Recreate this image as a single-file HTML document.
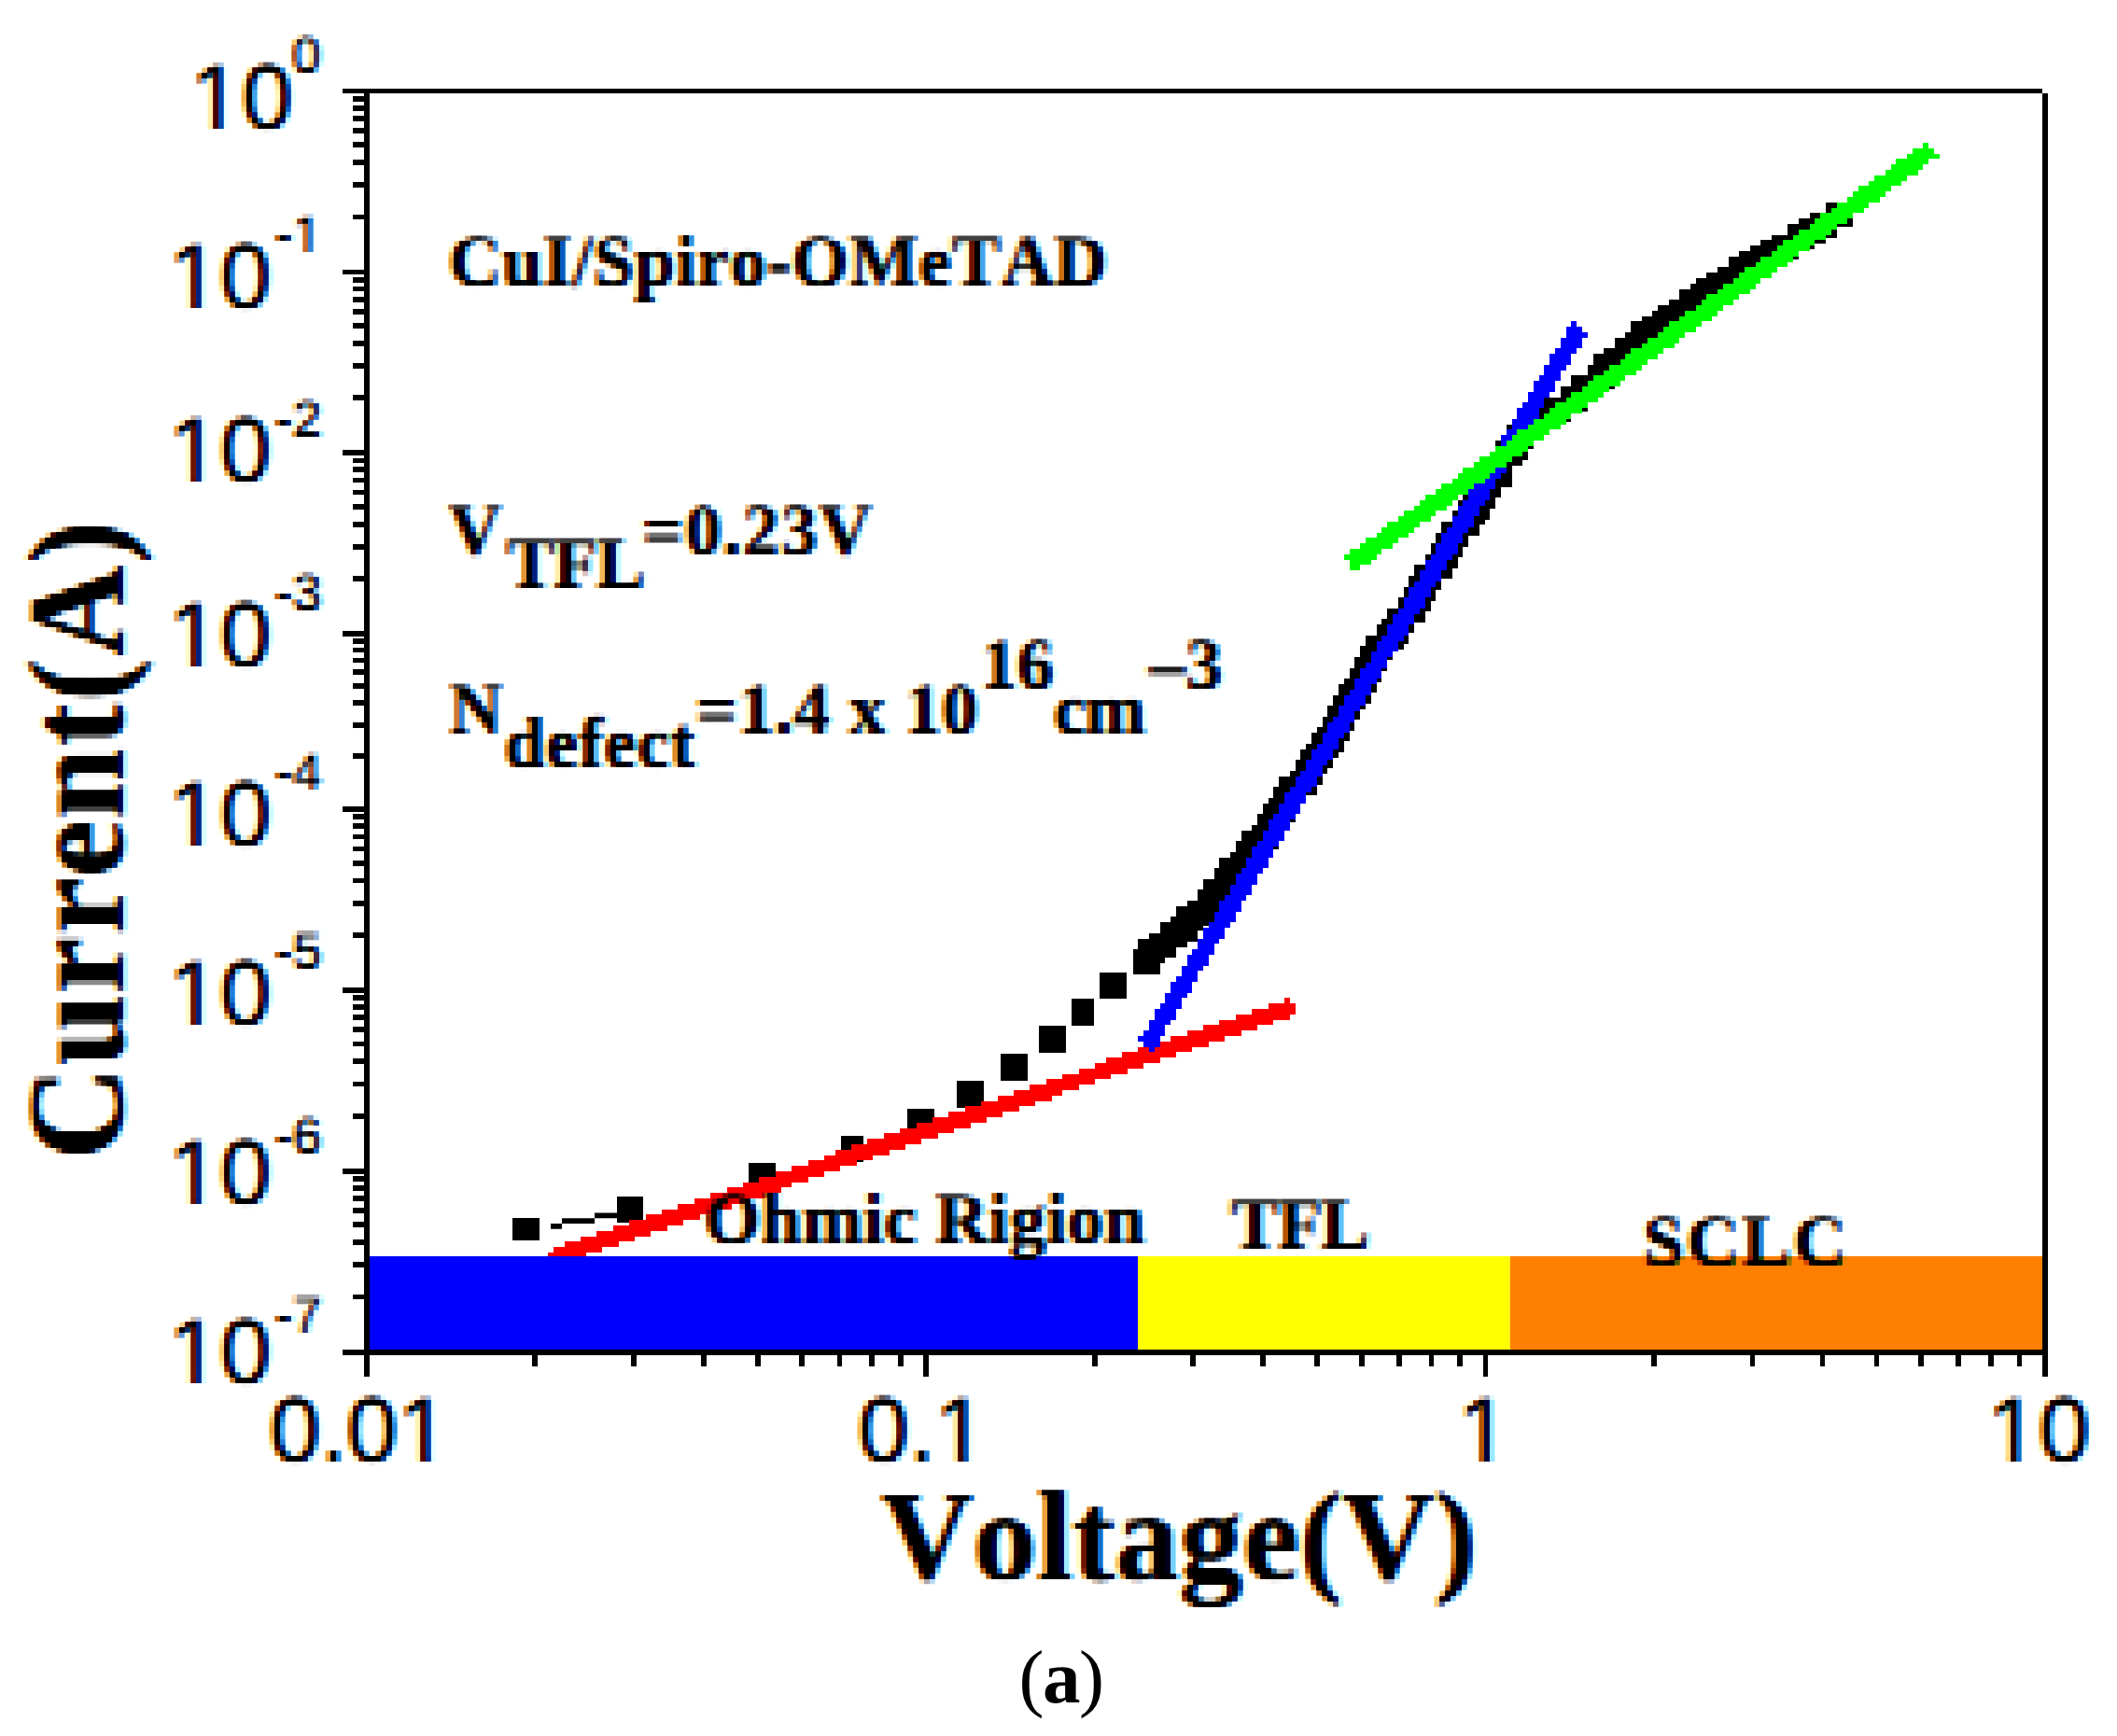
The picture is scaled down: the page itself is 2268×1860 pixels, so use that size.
<!DOCTYPE html>
<html lang="en"><head><meta charset="utf-8"><title>I-V characteristics (a)</title>
<style>html,body{margin:0;padding:0;background:#fff;overflow:hidden}svg{display:block}text{font-kerning:none;fill:#000}.s{font-family:"Liberation Serif",serif;font-weight:bold}.a{font-family:"Liberation Sans",sans-serif}</style></head><body>
<svg width="2268" height="1860" viewBox="0 0 2268 1860">
<rect width="2268" height="1860" fill="#fff"/>
<g fill="#000" shape-rendering="crispEdges">
<rect x="548.9" y="1304.6" width="29.0" height="24.0"/>
<rect x="660.7" y="1281.7" width="28.6" height="28.6"/>
<rect x="801.8" y="1245.7" width="29.0" height="28.6"/>
<rect x="900.8" y="1216.7" width="24.5" height="28.6"/>
<rect x="971.9" y="1187.7" width="29.0" height="28.6"/>
<rect x="1025.0" y="1158.0" width="29.0" height="29.0"/>
<rect x="1071.8" y="1128.7" width="29.0" height="29.0"/>
<rect x="1113.0" y="1099.2" width="29.0" height="29.0"/>
<rect x="1148.2" y="1070.0" width="23.5" height="29.0"/>
<rect x="1178.0" y="1041.5" width="29.0" height="28.6"/>
<rect x="1213.6" y="1017.2" width="29.0" height="26.5"/>
<rect x="1219.4" y="1005.6" width="29.0" height="26.5"/>
<rect x="1231.0" y="999.8" width="29.0" height="26.5"/>
<rect x="1242.6" y="988.2" width="29.0" height="26.5"/>
<rect x="1254.2" y="982.4" width="29.0" height="26.5"/>
<rect x="1260.0" y="970.8" width="29.0" height="26.5"/>
<rect x="1271.6" y="965.0" width="29.0" height="26.5"/>
<rect x="1283.2" y="953.4" width="29.0" height="26.5"/>
<rect x="1289.0" y="941.8" width="29.0" height="26.5"/>
<rect x="1300.6" y="930.2" width="29.0" height="26.5"/>
<rect x="1306.4" y="918.6" width="29.0" height="26.5"/>
<rect x="1318.0" y="912.8" width="29.0" height="26.5"/>
<rect x="1323.8" y="901.2" width="29.0" height="26.5"/>
<rect x="1329.6" y="889.6" width="29.0" height="26.5"/>
<rect x="1341.2" y="883.8" width="29.0" height="26.5"/>
<rect x="1347.0" y="872.2" width="29.0" height="26.5"/>
<rect x="1352.8" y="860.6" width="29.0" height="26.5"/>
<rect x="1358.6" y="854.8" width="29.0" height="26.5"/>
<rect x="1364.4" y="843.2" width="29.0" height="26.5"/>
<rect x="1370.2" y="831.6" width="29.0" height="26.5"/>
<rect x="1381.8" y="825.8" width="29.0" height="26.5"/>
<rect x="1387.6" y="814.2" width="29.0" height="26.5"/>
<rect x="1393.4" y="802.6" width="29.0" height="26.5"/>
<rect x="1399.2" y="796.8" width="29.0" height="26.5"/>
<rect x="1405.0" y="785.2" width="29.0" height="26.5"/>
<rect x="1410.8" y="779.4" width="29.0" height="26.5"/>
<rect x="1416.6" y="767.8" width="29.0" height="26.5"/>
<rect x="1422.4" y="756.2" width="29.0" height="26.5"/>
<rect x="1428.2" y="744.6" width="29.0" height="26.5"/>
<rect x="1434.0" y="733.0" width="29.0" height="26.5"/>
<rect x="1439.8" y="727.2" width="29.0" height="26.5"/>
<rect x="1445.6" y="715.6" width="29.0" height="26.5"/>
<rect x="1451.4" y="704.0" width="29.0" height="26.5"/>
<rect x="1457.2" y="692.4" width="29.0" height="26.5"/>
<rect x="1463.0" y="680.8" width="29.0" height="26.5"/>
<rect x="1474.6" y="669.2" width="29.0" height="26.5"/>
<rect x="1480.4" y="663.4" width="29.0" height="26.5"/>
<rect x="1486.2" y="651.8" width="29.0" height="26.5"/>
<rect x="1497.8" y="640.2" width="29.0" height="26.5"/>
<rect x="1503.6" y="628.6" width="29.0" height="26.5"/>
<rect x="1509.4" y="617.0" width="29.0" height="26.5"/>
<rect x="1515.2" y="605.4" width="29.0" height="26.5"/>
<rect x="1526.8" y="593.8" width="29.0" height="26.5"/>
<rect x="1532.6" y="582.2" width="29.0" height="26.5"/>
<rect x="1538.4" y="570.6" width="29.0" height="26.5"/>
<rect x="1544.2" y="559.0" width="29.0" height="26.5"/>
<rect x="1555.8" y="547.4" width="29.0" height="26.5"/>
<rect x="1561.6" y="535.8" width="29.0" height="26.5"/>
<rect x="1567.4" y="530.0" width="29.0" height="26.5"/>
<rect x="1573.2" y="518.4" width="29.0" height="26.5"/>
<rect x="1579.0" y="506.8" width="29.0" height="26.5"/>
<rect x="1590.6" y="495.2" width="29.0" height="26.5"/>
<rect x="1602.2" y="472.0" width="29.0" height="26.5"/>
<rect x="1608.0" y="466.2" width="29.0" height="26.5"/>
<rect x="1613.8" y="454.6" width="29.0" height="26.5"/>
<rect x="1625.4" y="443.0" width="29.0" height="26.5"/>
<rect x="1642.8" y="431.4" width="29.0" height="26.5"/>
<rect x="1654.4" y="425.6" width="29.0" height="26.5"/>
<rect x="1671.8" y="414.0" width="29.0" height="26.5"/>
<rect x="1683.4" y="402.4" width="29.0" height="26.5"/>
<rect x="1700.8" y="390.8" width="29.0" height="26.5"/>
<rect x="1706.6" y="379.2" width="29.0" height="26.5"/>
<rect x="1718.2" y="373.4" width="29.0" height="26.5"/>
<rect x="1729.8" y="361.8" width="29.0" height="26.5"/>
<rect x="1741.4" y="356.0" width="29.0" height="26.5"/>
<rect x="1747.2" y="344.4" width="29.0" height="26.5"/>
<rect x="1758.8" y="338.6" width="29.0" height="26.5"/>
<rect x="1770.4" y="332.8" width="29.0" height="26.5"/>
<rect x="1776.2" y="327.0" width="29.0" height="26.5"/>
<rect x="1787.8" y="321.2" width="29.0" height="26.5"/>
<rect x="1799.4" y="309.6" width="29.0" height="26.5"/>
<rect x="1811.0" y="303.8" width="29.0" height="26.5"/>
<rect x="1816.8" y="298.0" width="29.0" height="26.5"/>
<rect x="1828.4" y="292.2" width="29.0" height="26.5"/>
<rect x="1840.0" y="286.4" width="29.0" height="26.5"/>
<rect x="1851.6" y="274.8" width="29.0" height="26.5"/>
<rect x="1863.2" y="269.0" width="29.0" height="26.5"/>
<rect x="1874.8" y="263.2" width="29.0" height="26.5"/>
<rect x="1886.4" y="257.4" width="29.0" height="26.5"/>
<rect x="1898.0" y="251.6" width="29.0" height="26.5"/>
<rect x="1915.4" y="240.0" width="29.0" height="26.5"/>
<rect x="1927.0" y="234.2" width="29.0" height="26.5"/>
<rect x="1938.6" y="228.4" width="29.0" height="26.5"/>
<rect x="1956.0" y="216.8" width="29.0" height="26.5"/>
</g>
<path d="M590 1311h12v5.8h-12zM602 1305.2h35v5.8h-35zM637 1299.4h24v5.8h-24z" fill="#000"/>
<path fill="#f00" shape-rendering="crispEdges" d="M1376.04 1069.40h5.80v5.85h-5.80zM1358.64 1075.20h29.00v5.85h-29.00zM1341.24 1081.00h46.40v5.85h-46.40zM1323.84 1086.80h58.00v5.85h-58.00zM1306.44 1092.60h58.00v5.85h-58.00zM1289.04 1098.40h58.00v5.85h-58.00zM1271.64 1104.20h58.00v5.85h-58.00zM1254.24 1110.00h58.00v5.85h-58.00zM1236.84 1115.80h58.00v5.85h-58.00zM1219.44 1121.60h58.00v5.85h-58.00zM1202.04 1127.40h58.00v5.85h-58.00zM1184.64 1133.20h58.00v5.85h-58.00zM1173.04 1139.00h52.20v5.85h-52.20zM1155.64 1144.80h52.20v5.85h-52.20zM1138.24 1150.60h52.20v5.85h-52.20zM1120.84 1156.40h52.20v5.85h-52.20zM1103.44 1162.20h52.20v5.85h-52.20zM1086.04 1168.00h52.20v5.85h-52.20zM1068.64 1173.80h58.00v5.85h-58.00zM1051.24 1179.60h58.00v5.85h-58.00zM1033.84 1185.40h58.00v5.85h-58.00zM1016.44 1191.20h58.00v5.85h-58.00zM999.04 1197.00h58.00v5.85h-58.00zM981.64 1202.80h58.00v5.85h-58.00zM964.24 1208.60h58.00v5.85h-58.00zM946.84 1214.40h58.00v5.85h-58.00zM929.44 1220.20h58.00v5.85h-58.00zM912.04 1226.00h58.00v5.85h-58.00zM894.64 1231.80h58.00v5.85h-58.00zM883.04 1237.60h52.20v5.85h-52.20zM865.64 1243.40h52.20v5.85h-52.20zM848.24 1249.20h52.20v5.85h-52.20zM830.84 1255.00h52.20v5.85h-52.20zM813.44 1260.80h52.20v5.85h-52.20zM796.04 1266.60h52.20v5.85h-52.20zM778.64 1272.40h58.00v5.85h-58.00zM761.24 1278.20h58.00v5.85h-58.00zM743.84 1284.00h58.00v5.85h-58.00zM726.44 1289.80h58.00v5.85h-58.00zM709.04 1295.60h58.00v5.85h-58.00zM691.64 1301.40h58.00v5.85h-58.00zM674.24 1307.20h58.00v5.85h-58.00zM656.84 1313.00h58.00v5.85h-58.00zM639.44 1318.80h58.00v5.85h-58.00zM622.04 1324.60h58.00v5.85h-58.00zM604.64 1330.40h58.00v5.85h-58.00zM593.04 1336.20h52.20v5.85h-52.20zM587.24 1342.00h40.60v5.85h-40.60zM587.24 1347.80h23.20v5.85h-23.20zM587.24 1353.60h5.80v5.85h-5.80z"/>
<path fill="#00f" shape-rendering="crispEdges" d="M1683.44 344.40h5.80v5.85h-5.80zM1677.64 350.20h17.40v5.85h-17.40zM1677.64 356.00h23.20v5.85h-23.20zM1671.84 361.80h23.20v5.85h-23.20zM1671.84 367.60h23.20v5.85h-23.20zM1666.04 373.40h23.20v5.85h-23.20zM1660.24 379.20h23.20v5.85h-23.20zM1660.24 385.00h23.20v5.85h-23.20zM1654.44 390.80h23.20v5.85h-23.20zM1654.44 396.60h17.40v5.85h-17.40zM1648.64 402.40h23.20v5.85h-23.20zM1642.84 408.20h23.20v5.85h-23.20zM1642.84 414.00h23.20v5.85h-23.20zM1637.04 419.80h23.20v5.85h-23.20zM1637.04 425.60h17.40v5.85h-17.40zM1631.24 431.40h23.20v5.85h-23.20zM1625.44 437.20h23.20v5.85h-23.20zM1625.44 443.00h23.20v5.85h-23.20zM1619.64 448.80h23.20v5.85h-23.20zM1619.64 454.60h17.40v5.85h-17.40zM1613.84 460.40h23.20v5.85h-23.20zM1608.04 466.20h23.20v5.85h-23.20zM1608.04 472.00h23.20v5.85h-23.20zM1602.24 477.80h23.20v5.85h-23.20zM1602.24 483.60h17.40v5.85h-17.40zM1596.44 489.40h23.20v5.85h-23.20zM1590.64 495.20h23.20v5.85h-23.20zM1590.64 501.00h23.20v5.85h-23.20zM1584.84 506.80h23.20v5.85h-23.20zM1584.84 512.60h17.40v5.85h-17.40zM1579.04 518.40h23.20v5.85h-23.20zM1573.24 524.20h23.20v5.85h-23.20zM1573.24 530.00h23.20v5.85h-23.20zM1567.44 535.80h23.20v5.85h-23.20zM1561.64 541.60h23.20v5.85h-23.20zM1561.64 547.40h23.20v5.85h-23.20zM1555.84 553.20h23.20v5.85h-23.20zM1555.84 559.00h23.20v5.85h-23.20zM1550.04 564.80h23.20v5.85h-23.20zM1544.24 570.60h23.20v5.85h-23.20zM1544.24 576.40h23.20v5.85h-23.20zM1538.44 582.20h23.20v5.85h-23.20zM1538.44 588.00h23.20v5.85h-23.20zM1532.64 593.80h23.20v5.85h-23.20zM1526.84 599.60h23.20v5.85h-23.20zM1526.84 605.40h23.20v5.85h-23.20zM1521.04 611.20h23.20v5.85h-23.20zM1521.04 617.00h23.20v5.85h-23.20zM1515.24 622.80h23.20v5.85h-23.20zM1509.44 628.60h23.20v5.85h-23.20zM1509.44 634.40h23.20v5.85h-23.20zM1503.64 640.20h23.20v5.85h-23.20zM1503.64 646.00h23.20v5.85h-23.20zM1497.84 651.80h23.20v5.85h-23.20zM1492.04 657.60h23.20v5.85h-23.20zM1492.04 663.40h23.20v5.85h-23.20zM1486.24 669.20h23.20v5.85h-23.20zM1486.24 675.00h23.20v5.85h-23.20zM1480.44 680.80h23.20v5.85h-23.20zM1474.64 686.60h23.20v5.85h-23.20zM1474.64 692.40h23.20v5.85h-23.20zM1468.84 698.20h23.20v5.85h-23.20zM1468.84 704.00h17.40v5.85h-17.40zM1463.04 709.80h23.20v5.85h-23.20zM1457.24 715.60h23.20v5.85h-23.20zM1457.24 721.40h23.20v5.85h-23.20zM1451.44 727.20h23.20v5.85h-23.20zM1451.44 733.00h17.40v5.85h-17.40zM1445.64 738.80h23.20v5.85h-23.20zM1439.84 744.60h23.20v5.85h-23.20zM1439.84 750.40h23.20v5.85h-23.20zM1434.04 756.20h23.20v5.85h-23.20zM1434.04 762.00h17.40v5.85h-17.40zM1428.24 767.80h23.20v5.85h-23.20zM1422.44 773.60h23.20v5.85h-23.20zM1422.44 779.40h23.20v5.85h-23.20zM1416.64 785.20h23.20v5.85h-23.20zM1416.64 791.00h17.40v5.85h-17.40zM1410.84 796.80h23.20v5.85h-23.20zM1405.04 802.60h23.20v5.85h-23.20zM1405.04 808.40h23.20v5.85h-23.20zM1399.24 814.20h23.20v5.85h-23.20zM1399.24 820.00h17.40v5.85h-17.40zM1393.44 825.80h23.20v5.85h-23.20zM1387.64 831.60h23.20v5.85h-23.20zM1387.64 837.40h23.20v5.85h-23.20zM1381.84 843.20h23.20v5.85h-23.20zM1376.04 849.00h23.20v5.85h-23.20zM1376.04 854.80h23.20v5.85h-23.20zM1370.24 860.60h23.20v5.85h-23.20zM1370.24 866.40h23.20v5.85h-23.20zM1364.44 872.20h23.20v5.85h-23.20zM1358.64 878.00h23.20v5.85h-23.20zM1358.64 883.80h23.20v5.85h-23.20zM1352.84 889.60h23.20v5.85h-23.20zM1352.84 895.40h23.20v5.85h-23.20zM1347.04 901.20h23.20v5.85h-23.20zM1341.24 907.00h23.20v5.85h-23.20zM1341.24 912.80h23.20v5.85h-23.20zM1335.44 918.60h23.20v5.85h-23.20zM1335.44 924.40h23.20v5.85h-23.20zM1329.64 930.20h23.20v5.85h-23.20zM1323.84 936.00h23.20v5.85h-23.20zM1323.84 941.80h23.20v5.85h-23.20zM1318.04 947.60h23.20v5.85h-23.20zM1318.04 953.40h23.20v5.85h-23.20zM1312.24 959.20h23.20v5.85h-23.20zM1306.44 965.00h23.20v5.85h-23.20zM1306.44 970.80h23.20v5.85h-23.20zM1300.64 976.60h23.20v5.85h-23.20zM1300.64 982.40h23.20v5.85h-23.20zM1294.84 988.20h23.20v5.85h-23.20zM1289.04 994.00h23.20v5.85h-23.20zM1289.04 999.80h23.20v5.85h-23.20zM1283.24 1005.60h23.20v5.85h-23.20zM1283.24 1011.40h17.40v5.85h-17.40zM1277.44 1017.20h23.20v5.85h-23.20zM1271.64 1023.00h23.20v5.85h-23.20zM1271.64 1028.80h23.20v5.85h-23.20zM1265.84 1034.60h23.20v5.85h-23.20zM1265.84 1040.40h17.40v5.85h-17.40zM1260.04 1046.20h23.20v5.85h-23.20zM1254.24 1052.00h23.20v5.85h-23.20zM1254.24 1057.80h23.20v5.85h-23.20zM1248.44 1063.60h23.20v5.85h-23.20zM1248.44 1069.40h17.40v5.85h-17.40zM1242.64 1075.20h23.20v5.85h-23.20zM1236.84 1081.00h23.20v5.85h-23.20zM1236.84 1086.80h23.20v5.85h-23.20zM1231.04 1092.60h23.20v5.85h-23.20zM1231.04 1098.40h17.40v5.85h-17.40zM1225.24 1104.20h23.20v5.85h-23.20zM1219.44 1110.00h23.20v5.85h-23.20zM1225.24 1115.80h17.40v5.85h-17.40zM1231.04 1121.60h5.80v5.85h-5.80z"/>
<path fill="#0f0" shape-rendering="crispEdges" d="M2060.44 153.00h5.80v5.85h-5.80zM2048.84 158.80h23.20v5.85h-23.20zM2043.04 164.60h34.80v5.85h-34.80zM2031.44 170.40h34.80v5.85h-34.80zM2025.64 176.20h34.80v5.85h-34.80zM2019.84 182.00h34.80v5.85h-34.80zM2008.24 187.80h34.80v5.85h-34.80zM2002.44 193.60h34.80v5.85h-34.80zM1990.84 199.40h34.80v5.85h-34.80zM1985.04 205.20h34.80v5.85h-34.80zM1979.24 211.00h34.80v5.85h-34.80zM1967.64 216.80h34.80v5.85h-34.80zM1961.84 222.60h34.80v5.85h-34.80zM1950.24 228.40h34.80v5.85h-34.80zM1944.44 234.20h34.80v5.85h-34.80zM1938.64 240.00h29.00v5.85h-29.00zM1927.04 245.80h34.80v5.85h-34.80zM1921.24 251.60h34.80v5.85h-34.80zM1909.64 257.40h34.80v5.85h-34.80zM1903.84 263.20h34.80v5.85h-34.80zM1898.04 269.00h29.00v5.85h-29.00zM1886.44 274.80h34.80v5.85h-34.80zM1880.64 280.60h34.80v5.85h-34.80zM1869.04 286.40h34.80v5.85h-34.80zM1863.24 292.20h34.80v5.85h-34.80zM1857.44 298.00h29.00v5.85h-29.00zM1845.84 303.80h34.80v5.85h-34.80zM1840.04 309.60h34.80v5.85h-34.80zM1828.44 315.40h34.80v5.85h-34.80zM1822.64 321.20h34.80v5.85h-34.80zM1816.84 327.00h29.00v5.85h-29.00zM1805.24 332.80h34.80v5.85h-34.80zM1799.44 338.60h34.80v5.85h-34.80zM1787.84 344.40h34.80v5.85h-34.80zM1782.04 350.20h34.80v5.85h-34.80zM1776.24 356.00h29.00v5.85h-29.00zM1764.64 361.80h34.80v5.85h-34.80zM1758.84 367.60h34.80v5.85h-34.80zM1747.24 373.40h34.80v5.85h-34.80zM1741.44 379.20h34.80v5.85h-34.80zM1735.64 385.00h29.00v5.85h-29.00zM1724.04 390.80h34.80v5.85h-34.80zM1718.24 396.60h34.80v5.85h-34.80zM1706.64 402.40h34.80v5.85h-34.80zM1700.84 408.20h34.80v5.85h-34.80zM1695.04 414.00h29.00v5.85h-29.00zM1683.44 419.80h34.80v5.85h-34.80zM1677.64 425.60h34.80v5.85h-34.80zM1666.04 431.40h34.80v5.85h-34.80zM1660.24 437.20h34.80v5.85h-34.80zM1654.44 443.00h29.00v5.85h-29.00zM1642.84 448.80h34.80v5.85h-34.80zM1637.04 454.60h34.80v5.85h-34.80zM1625.44 460.40h34.80v5.85h-34.80zM1619.64 466.20h34.80v5.85h-34.80zM1613.84 472.00h29.00v5.85h-29.00zM1602.24 477.80h34.80v5.85h-34.80zM1596.44 483.60h34.80v5.85h-34.80zM1584.84 489.40h34.80v5.85h-34.80zM1579.04 495.20h34.80v5.85h-34.80zM1567.44 501.00h34.80v5.85h-34.80zM1561.64 506.80h34.80v5.85h-34.80zM1555.84 512.60h34.80v5.85h-34.80zM1544.24 518.40h34.80v5.85h-34.80zM1538.44 524.20h34.80v5.85h-34.80zM1526.84 530.00h34.80v5.85h-34.80zM1521.04 535.80h34.80v5.85h-34.80zM1515.24 541.60h34.80v5.85h-34.80zM1503.64 547.40h34.80v5.85h-34.80zM1497.84 553.20h34.80v5.85h-34.80zM1486.24 559.00h34.80v5.85h-34.80zM1480.44 564.80h34.80v5.85h-34.80zM1474.64 570.60h34.80v5.85h-34.80zM1463.04 576.40h34.80v5.85h-34.80zM1457.24 582.20h34.80v5.85h-34.80zM1445.64 588.00h34.80v5.85h-34.80zM1439.84 593.80h34.80v5.85h-34.80zM1445.64 599.60h23.20v5.85h-23.20zM1445.64 605.40h11.60v5.85h-11.60z"/>
<rect x="395" y="1345.9" width="824" height="100.84999999999991" fill="#00f"/>
<rect x="1219" y="1345.9" width="398.79999999999995" height="100.84999999999991" fill="#ff0"/>
<rect x="1617.8" y="1345.9" width="571.2" height="100.84999999999991" fill="#ff8000"/>
<g fill="#000" shape-rendering="crispEdges">
<rect x="367" y="94.85" width="1821" height="5.2"/>
<rect x="367" y="1445.75" width="1827" height="5.9"/>
<rect x="390" y="94.85" width="5.9" height="1379.65"/>
<rect x="2188" y="99.85" width="5.9" height="1374.65"/>
<rect x="378.3" y="229.51" width="12" height="5.8"/>
<rect x="378.3" y="195.38" width="12" height="5.8"/>
<rect x="378.3" y="171.17" width="12" height="5.8"/>
<rect x="378.3" y="152.39" width="12" height="5.8"/>
<rect x="378.3" y="137.04" width="12" height="5.8"/>
<rect x="378.3" y="124.07" width="12" height="5.8"/>
<rect x="378.3" y="112.83" width="12" height="5.8"/>
<rect x="378.3" y="102.92" width="12" height="5.8"/>
<rect x="367" y="288.65" width="24" height="5.8"/>
<rect x="378.3" y="423.31" width="12" height="5.8"/>
<rect x="378.3" y="389.18" width="12" height="5.8"/>
<rect x="378.3" y="364.97" width="12" height="5.8"/>
<rect x="378.3" y="346.19" width="12" height="5.8"/>
<rect x="378.3" y="330.84" width="12" height="5.8"/>
<rect x="378.3" y="317.87" width="12" height="5.8"/>
<rect x="378.3" y="306.63" width="12" height="5.8"/>
<rect x="378.3" y="296.72" width="12" height="5.8"/>
<rect x="367" y="482.45" width="24" height="5.8"/>
<rect x="378.3" y="617.11" width="12" height="5.8"/>
<rect x="378.3" y="582.98" width="12" height="5.8"/>
<rect x="378.3" y="558.77" width="12" height="5.8"/>
<rect x="378.3" y="539.99" width="12" height="5.8"/>
<rect x="378.3" y="524.64" width="12" height="5.8"/>
<rect x="378.3" y="511.67" width="12" height="5.8"/>
<rect x="378.3" y="500.43" width="12" height="5.8"/>
<rect x="378.3" y="490.52" width="12" height="5.8"/>
<rect x="367" y="676.25" width="24" height="5.8"/>
<rect x="378.3" y="806.93" width="12" height="5.8"/>
<rect x="378.3" y="773.80" width="12" height="5.8"/>
<rect x="378.3" y="750.30" width="12" height="5.8"/>
<rect x="378.3" y="732.07" width="12" height="5.8"/>
<rect x="378.3" y="717.18" width="12" height="5.8"/>
<rect x="378.3" y="704.59" width="12" height="5.8"/>
<rect x="378.3" y="693.68" width="12" height="5.8"/>
<rect x="378.3" y="684.06" width="12" height="5.8"/>
<rect x="367" y="864.35" width="24" height="5.8"/>
<rect x="378.3" y="999.01" width="12" height="5.8"/>
<rect x="378.3" y="964.88" width="12" height="5.8"/>
<rect x="378.3" y="940.67" width="12" height="5.8"/>
<rect x="378.3" y="921.89" width="12" height="5.8"/>
<rect x="378.3" y="906.54" width="12" height="5.8"/>
<rect x="378.3" y="893.57" width="12" height="5.8"/>
<rect x="378.3" y="882.33" width="12" height="5.8"/>
<rect x="378.3" y="872.42" width="12" height="5.8"/>
<rect x="367" y="1058.15" width="24" height="5.8"/>
<rect x="378.3" y="1192.81" width="12" height="5.8"/>
<rect x="378.3" y="1158.68" width="12" height="5.8"/>
<rect x="378.3" y="1134.47" width="12" height="5.8"/>
<rect x="378.3" y="1115.69" width="12" height="5.8"/>
<rect x="378.3" y="1100.34" width="12" height="5.8"/>
<rect x="378.3" y="1087.37" width="12" height="5.8"/>
<rect x="378.3" y="1076.13" width="12" height="5.8"/>
<rect x="378.3" y="1066.22" width="12" height="5.8"/>
<rect x="367" y="1251.95" width="24" height="5.8"/>
<rect x="378.3" y="1386.61" width="12" height="5.8"/>
<rect x="378.3" y="1352.48" width="12" height="5.8"/>
<rect x="378.3" y="1328.27" width="12" height="5.8"/>
<rect x="378.3" y="1309.49" width="12" height="5.8"/>
<rect x="378.3" y="1294.14" width="12" height="5.8"/>
<rect x="378.3" y="1281.17" width="12" height="5.8"/>
<rect x="378.3" y="1269.93" width="12" height="5.8"/>
<rect x="378.3" y="1260.02" width="12" height="5.8"/>
<rect x="570.42" y="1450.75" width="5.8" height="12.95"/>
<rect x="675.95" y="1450.75" width="5.8" height="12.95"/>
<rect x="750.83" y="1450.75" width="5.8" height="12.95"/>
<rect x="808.92" y="1450.75" width="5.8" height="12.95"/>
<rect x="856.37" y="1450.75" width="5.8" height="12.95"/>
<rect x="896.50" y="1450.75" width="5.8" height="12.95"/>
<rect x="931.25" y="1450.75" width="5.8" height="12.95"/>
<rect x="961.91" y="1450.75" width="5.8" height="12.95"/>
<rect x="989.33" y="1450.75" width="5.8" height="23.75"/>
<rect x="1169.75" y="1450.75" width="5.8" height="12.95"/>
<rect x="1275.29" y="1450.75" width="5.8" height="12.95"/>
<rect x="1350.17" y="1450.75" width="5.8" height="12.95"/>
<rect x="1408.25" y="1450.75" width="5.8" height="12.95"/>
<rect x="1455.71" y="1450.75" width="5.8" height="12.95"/>
<rect x="1495.83" y="1450.75" width="5.8" height="12.95"/>
<rect x="1530.59" y="1450.75" width="5.8" height="12.95"/>
<rect x="1561.24" y="1450.75" width="5.8" height="12.95"/>
<rect x="1588.67" y="1450.75" width="5.8" height="23.75"/>
<rect x="1769.08" y="1450.75" width="5.8" height="12.95"/>
<rect x="1874.62" y="1450.75" width="5.8" height="12.95"/>
<rect x="1949.50" y="1450.75" width="5.8" height="12.95"/>
<rect x="2007.58" y="1450.75" width="5.8" height="12.95"/>
<rect x="2055.04" y="1450.75" width="5.8" height="12.95"/>
<rect x="2095.16" y="1450.75" width="5.8" height="12.95"/>
<rect x="2129.92" y="1450.75" width="5.8" height="12.95"/>
<rect x="2160.58" y="1450.75" width="5.8" height="12.95"/>
</g>
<defs><filter id="px" x="0" y="0" width="2268" height="1860" filterUnits="userSpaceOnUse" color-interpolation-filters="sRGB">
<feGaussianBlur in="SourceAlpha" stdDeviation="1.9 1.1" result="b0"/>
<feComponentTransfer in="b0" result="b"><feFuncA type="linear" slope="1.15" intercept="-0.02"/></feComponentTransfer>
<feFlood x="2" y="2" width="2" height="2" flood-color="#000" result="f"/>
<feComposite in="f" in2="f" operator="over" width="6" height="6" result="cell"/>
<feTile in="cell" result="grid"/>
<feComposite in="b" in2="grid" operator="in" result="sg"/>
<feMorphology in="sg" operator="dilate" radius="2" result="pg"/>
<feOffset in="b" dx="2" dy="0" result="br"/>
<feComposite in="br" in2="grid" operator="in" result="sr"/>
<feMorphology in="sr" operator="dilate" radius="2" result="pr"/>
<feOffset in="b" dx="-2" dy="0" result="bb"/>
<feComposite in="bb" in2="grid" operator="in" result="sb"/>
<feMorphology in="sb" operator="dilate" radius="2" result="pb"/>
<feColorMatrix in="pr" type="matrix" values="0 0 0 -1 1  0 0 0 0 1  0 0 0 0 1  0 0 0 0 1" result="ir"/>
<feColorMatrix in="pg" type="matrix" values="0 0 0 0 1  0 0 0 -1 1  0 0 0 0 1  0 0 0 0 1" result="ig"/>
<feColorMatrix in="pb" type="matrix" values="0 0 0 0 1  0 0 0 0 1  0 0 0 -1 1  0 0 0 0 1" result="ib"/>
<feBlend in="ir" in2="ig" mode="multiply" result="rg"/>
<feBlend in="rg" in2="ib" mode="multiply"/>
</filter></defs>
<g filter="url(#px)" style="mix-blend-mode:multiply">
<text class="s" x="480.5" y="306" font-size="78" letter-spacing="0.80">CuI/Spiro-OMeTAD</text>
<text class="s" x="480.4" y="594" font-size="78">V</text>
<text class="s" x="542.3" y="630" font-size="78" letter-spacing="-1.50">TFL</text>
<text class="s" x="687.8" y="594" font-size="78" letter-spacing="1.69">=0.23V</text>
<text class="s" x="481.5" y="786" font-size="78">N</text>
<text class="s" x="540.3" y="822" font-size="78" letter-spacing="0.90">defect</text>
<text class="s" x="745.2" y="786" font-size="78" letter-spacing="0.58">=1.4 x 10</text>
<text class="s" x="1050.4" y="738" font-size="78" letter-spacing="0.20">16</text>
<text class="s" x="1128.8" y="786" font-size="78" letter-spacing="-1.50">cm</text>
<text class="s" x="1230.9" y="738" font-size="78" letter-spacing="0.40">–3</text>
<text class="s" x="754.0" y="1332" font-size="78" letter-spacing="0.56">Ohmic Rigion</text>
<text class="s" x="1318.4" y="1338" font-size="78" letter-spacing="-1.50">TFL</text>
<text class="s" x="1760.3" y="1356" font-size="78" letter-spacing="3.06">SCLC</text>
<text class="s" x="943.9" y="1692" font-size="136" letter-spacing="0.40">Voltage(V)</text>
<clipPath id="cx001"><path clip-rule="evenodd" d="M268.5 1467.0H501.2V1595.7H268.5ZM431.0 1557.6H450.9V1569.0H431.0ZM459.9 1557.6H479.3V1569.0H459.9Z"/></clipPath>
<text class="a" x="288.5" y="1566" font-size="99" clip-path="url(#cx001)">0.01</text>
<clipPath id="cx01"><path clip-rule="evenodd" d="M899.0 1467.0H1076.6V1595.7H899.0ZM1006.4 1557.6H1026.4V1569.0H1006.4ZM1035.3 1557.6H1054.7V1569.0H1035.3Z"/></clipPath>
<text class="a" x="919.0" y="1566" font-size="99" clip-path="url(#cx01)">0.1</text>
<clipPath id="cx1"><path clip-rule="evenodd" d="M1542.0 1467.0H1637.1V1595.7H1542.0ZM1566.8 1557.6H1586.8V1569.0H1566.8ZM1595.7 1557.6H1615.2V1569.0H1595.7Z"/></clipPath>
<text class="a" x="1562.0" y="1566" font-size="99" clip-path="url(#cx1)">1</text>
<clipPath id="cx10"><path clip-rule="evenodd" d="M2109.0 1467.0H2259.1V1595.7H2109.0ZM2133.8 1557.6H2153.8V1569.0H2133.8ZM2162.7 1557.6H2182.2V1569.0H2162.7Z"/></clipPath>
<text class="a" x="2129.0" y="1566" font-size="99" clip-path="url(#cx10)">10</text>
<clipPath id="cy0"><path clip-rule="evenodd" d="M183.7 39.0H333.8V167.7H183.7ZM208.5 129.6H228.5V141.0H208.5ZM237.4 129.6H256.9V141.0H237.4Z"/></clipPath>
<text class="a" x="203.7" y="138" font-size="99" clip-path="url(#cy0)">10</text>
<text class="a" x="312.5" y="78" font-size="56">0</text>
<clipPath id="cy1"><path clip-rule="evenodd" d="M160.5 231.0H310.6V359.7H160.5ZM185.3 321.6H205.3V333.0H185.3ZM214.2 321.6H233.7V333.0H214.2Z"/></clipPath>
<text class="a" x="180.5" y="330" font-size="99" clip-path="url(#cy1)">10</text>
<clipPath id="cys1"><path clip-rule="evenodd" d="M274.5 214.0H364.3V286.8H274.5ZM315.9 264.8H327.2V273.0H315.9ZM332.2 264.8H343.2V273.0H332.2Z"/></clipPath>
<text class="a" x="294.5" y="270" font-size="56" clip-path="url(#cys1)">-1</text>
<clipPath id="cy2"><path clip-rule="evenodd" d="M160.5 417.0H310.6V545.7H160.5ZM185.3 507.6H205.3V519.0H185.3ZM214.2 507.6H233.7V519.0H214.2Z"/></clipPath>
<text class="a" x="180.5" y="516" font-size="99" clip-path="url(#cy2)">10</text>
<text class="a" x="294.5" y="468" font-size="56">-2</text>
<clipPath id="cy3"><path clip-rule="evenodd" d="M160.5 615.0H310.6V743.7H160.5ZM185.3 705.6H205.3V717.0H185.3ZM214.2 705.6H233.7V717.0H214.2Z"/></clipPath>
<text class="a" x="180.5" y="714" font-size="99" clip-path="url(#cy3)">10</text>
<text class="a" x="294.5" y="654" font-size="56">-3</text>
<clipPath id="cy4"><path clip-rule="evenodd" d="M160.5 807.0H310.6V935.7H160.5ZM185.3 897.6H205.3V909.0H185.3ZM214.2 897.6H233.7V909.0H214.2Z"/></clipPath>
<text class="a" x="180.5" y="906" font-size="99" clip-path="url(#cy4)">10</text>
<text class="a" x="294.5" y="846" font-size="56">-4</text>
<clipPath id="cy5"><path clip-rule="evenodd" d="M160.5 999.0H310.6V1127.7H160.5ZM185.3 1089.6H205.3V1101.0H185.3ZM214.2 1089.6H233.7V1101.0H214.2Z"/></clipPath>
<text class="a" x="180.5" y="1098" font-size="99" clip-path="url(#cy5)">10</text>
<text class="a" x="294.5" y="1038" font-size="56">-5</text>
<clipPath id="cy6"><path clip-rule="evenodd" d="M160.5 1191.0H310.6V1319.7H160.5ZM185.3 1281.6H205.3V1293.0H185.3ZM214.2 1281.6H233.7V1293.0H214.2Z"/></clipPath>
<text class="a" x="180.5" y="1290" font-size="99" clip-path="url(#cy6)">10</text>
<text class="a" x="294.5" y="1236" font-size="56">-6</text>
<clipPath id="cy7"><path clip-rule="evenodd" d="M160.5 1383.0H310.6V1511.7H160.5ZM185.3 1473.6H205.3V1485.0H185.3ZM214.2 1473.6H233.7V1485.0H214.2Z"/></clipPath>
<text class="a" x="180.5" y="1482" font-size="99" clip-path="url(#cy7)">10</text>
<text class="a" x="294.5" y="1428" font-size="56">-7</text>
<text class="s" font-size="136" letter-spacing="2.07" transform="translate(131 1242.0) rotate(-90) scale(1 1.07)">Current(A)</text>
</g>
<text x="1091.5" y="1823.5" font-size="81" letter-spacing="-1.5" style="font-family:'Liberation Serif',serif">(<tspan font-weight="bold">a</tspan>)</text>
</svg></body></html>
